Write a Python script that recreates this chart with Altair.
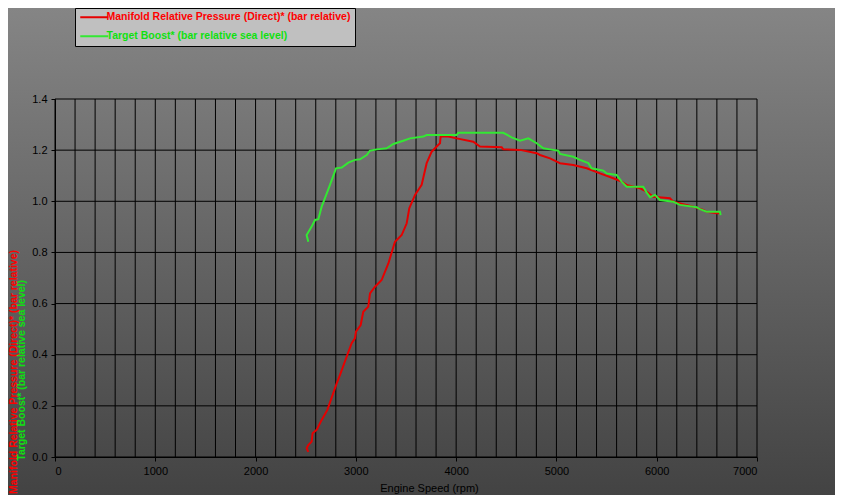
import altair as alt
import pandas as pd

RED_NAME = "Manifold Relative Pressure (Direct)* (bar relative)"
GREEN_NAME = "Target Boost* (bar relative sea level)"
X_TITLE = "Engine Speed (rpm)"

red_rpm = [2526, 2509, 2526, 2559, 2569, 2609, 2659, 2716, 2809, 2842, 2908, 2958, 2991, 3001,
           3048, 3074, 3124, 3141, 3191, 3257, 3324, 3390, 3457, 3507, 3533, 3590, 3656, 3706,
           3756, 3806, 3839, 3845, 3922, 4005, 4171, 4238, 4454, 4470, 4637, 4803, 4836, 4936,
           5003, 5036, 5168, 5302, 5434, 5567, 5650, 5700, 5833, 5900, 5966, 6132, 6165, 6365,
           6464, 6498, 6598, 6630]
red_val = [0.020, 0.034, 0.047, 0.060, 0.093, 0.106, 0.145, 0.184, 0.288, 0.321, 0.392, 0.445,
           0.464, 0.490, 0.516, 0.568, 0.588, 0.640, 0.666, 0.692, 0.757, 0.842, 0.868, 0.914,
           0.973, 1.025, 1.064, 1.149, 1.194, 1.214, 1.227, 1.253, 1.253, 1.246, 1.233, 1.214,
           1.211, 1.203, 1.201, 1.188, 1.181, 1.168, 1.155, 1.149, 1.142, 1.129, 1.109, 1.090,
           1.077, 1.064, 1.051, 1.038, 1.018, 1.012, 0.998, 0.979, 0.966, 0.959, 0.953, 0.953]

green_rpm = [2526, 2509, 2559, 2593, 2626, 2659, 2692, 2742, 2802, 2859, 2925, 2991, 3041, 3108,
             3141, 3207, 3307, 3374, 3473, 3540, 3673, 3706, 4005, 4022, 4470, 4553, 4637, 4720,
             4803, 4869, 4936, 5019, 5036, 5168, 5235, 5318, 5351, 5467, 5501, 5600, 5650, 5700,
             5866, 5900, 5933, 5983, 6032, 6165, 6232, 6398, 6431, 6498, 6631, 6637]
green_val = [0.842, 0.868, 0.901, 0.927, 0.930, 0.979, 1.012, 1.064, 1.129, 1.132, 1.151, 1.162,
             1.164, 1.181, 1.198, 1.203, 1.207, 1.224, 1.237, 1.246, 1.253, 1.259, 1.259, 1.268,
             1.268, 1.250, 1.237, 1.246, 1.227, 1.207, 1.203, 1.198, 1.185, 1.174, 1.162, 1.149,
             1.129, 1.120, 1.109, 1.103, 1.077, 1.057, 1.057, 1.034, 1.016, 1.025, 1.005, 0.998,
             0.986, 0.977, 0.969, 0.959, 0.959, 0.946]

x_ticks = [0, 1000, 2000, 3000, 4000, 5000, 6000, 7000]
x_grid = list(range(0, 7001, 200))
y_ticks = [0.0, 0.2, 0.4, 0.6, 0.8, 1.0, 1.2, 1.4]

RED = "#e60000"
GREEN = "#33e833"
RED_TXT = "#ff0000"
GREEN_TXT = "#10e010"
FONT = "Liberation Sans"

W, H = 702, 358
PL, PT, PR, PB = 47, 91, 78, 38

rows = []
for i, (r, v) in enumerate(zip(red_rpm, red_val)):
    rows.append({"series": RED_NAME, "rpm": r, "value": v, "order": i})
for i, (r, v) in enumerate(zip(green_rpm, green_val)):
    rows.append({"series": GREEN_NAME, "rpm": r, "value": v, "order": i})
df = pd.DataFrame(rows)

x_scale = alt.Scale(domain=[0, 7000], nice=False)
y_scale = alt.Scale(domain=[0, 1.4], nice=False)

x_axis = alt.Axis(values=x_ticks, format="d", grid=False, title=X_TITLE,
                  domainColor="black", tickColor="black", tickSize=4, labelPadding=4,
                  labelColor="black", labelFont=FONT, labelFontSize=11,
                  titleFont=FONT, titleFontSize=11, titleFontWeight="normal", titleColor="black",
                  titleX=374, titleY=34, titleAlign="center", titleBaseline="alphabetic",
                  zindex=1)
y_axis = alt.Axis(values=y_ticks, format=".1f", grid=False, title=None,
                  domainColor="black", tickColor="black", tickSize=4, labelPadding=4,
                  labelColor="black", labelFont=FONT, labelFontSize=11, zindex=1)

gradient = {"gradient": "linear", "x1": 0, "x2": 0, "y1": 0, "y2": 1,
            "stops": [{"offset": 0, "color": "#858585"}, {"offset": 1, "color": "#434343"}]}

bg = alt.Chart(pd.DataFrame({"k": [0]})).mark_rect(color=gradient).encode(
    x=alt.value(-PL), x2=alt.value(W + PR), y=alt.value(-PT), y2=alt.value(H + PB))

vgrid = alt.Chart(pd.DataFrame({"rpm": x_grid})).mark_rule(color="black", strokeWidth=1).encode(
    x=alt.X("rpm:Q", scale=x_scale, axis=x_axis))
hgrid = alt.Chart(pd.DataFrame({"value": y_ticks})).mark_rule(color="black", strokeWidth=1).encode(
    y=alt.Y("value:Q", scale=y_scale, axis=y_axis))

legend = alt.Legend(
    title=None, orient="none", legendX=20, legendY=-91, direction="vertical",
    fillColor="#c0c0c0", strokeColor="black", padding=4, cornerRadius=0,
    symbolType="M-14,0H14", symbolSize=4, symbolStrokeWidth=2, symbolOffset=10,
    labelOffset=7, labelFont=FONT, labelFontSize=10.5, labelFontWeight="bold",
    labelColor={"expr": "datum.label === '" + RED_NAME + "' ? '#ff0000' : '#10e010'"},
    rowPadding=8, labelLimit=500, zindex=1)

lines = alt.Chart(df).mark_line(strokeWidth=2).encode(
    x=alt.X("rpm:Q", scale=x_scale, axis=x_axis),
    y=alt.Y("value:Q", scale=y_scale, axis=y_axis),
    color=alt.Color("series:N", scale=alt.Scale(domain=[RED_NAME, GREEN_NAME], range=[RED, GREEN]),
                    legend=legend),
    order="order:Q")

red_title = alt.Chart(pd.DataFrame({"t": [RED_NAME]})).mark_text(
    angle=270, align="right", baseline="middle", font=FONT, fontSize=10.5, fontWeight="bold",
    color=RED_TXT).encode(text="t:N", x=alt.value(-41.5), y=alt.value(151))
green_title = alt.Chart(pd.DataFrame({"t": [GREEN_NAME]})).mark_text(
    angle=270, align="right", baseline="middle", font=FONT, fontSize=10.5, fontWeight="bold",
    color=GREEN_TXT).encode(text="t:N", x=alt.value(-33.5), y=alt.value(181))

chart = alt.layer(bg, hgrid, vgrid, lines, red_title, green_title).properties(
    width=W, height=H,
    autosize=alt.AutoSizeParams(type="none"),
    padding={"left": PL, "top": PT, "right": PR, "bottom": PB},
    background="#646464",
).configure_view(stroke=None)

chart.save("out.html", embed_options={"renderer": "svg", "actions": False})
